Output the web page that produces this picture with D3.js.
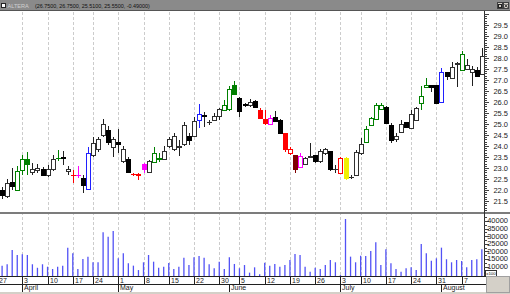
<!DOCTYPE html>
<html>
<head>
<meta charset="utf-8">
<script src="https://cdn.jsdelivr.net/npm/d3@7"></script>
<style>
  html, body { margin: 0; padding: 0; background: #fff; overflow: hidden; }
  svg { display: block; font-family: 'Liberation Sans', Arial, sans-serif; }
</style>
</head>
<body>
<div id="chart"></div>
<script>
// price + volume candles, Mar 28 .. Aug 11 2000 (daily)

const firstDay = '2000-03-27';
const holidays = ['2000-04-21', '2000-05-29', '2000-07-04'];
const monthNames = ['January', 'February', 'March', 'April', 'May', 'June', 'July',
  'August', 'September', 'October', 'November', 'December'];

const symbolName = 'ALTERA';
const titleValues = '(26.7500, 26.7500, 25.5100, 25.5500, -0.49000)';

const openP = [22.00, 21.70, 22.35, 22.00, 22.88, 23.40, 22.80, 22.90, 22.91, 22.64,
  22.91, 23.42, 23.49, 22.83, 22.66, 22.68, 22.53, 22.03, 23.55, 23.86,
  24.50, 24.69, 23.94, 24.17, 23.29, 23.40, 22.70, 22.69, 23.14, 22.80,
  23.24, 23.39, 23.40, 23.97, 23.82, 23.94, 24.05, 24.42, 24.42, 25.14,
  25.38, 25.07, 25.18, 25.36, 25.60, 25.64, 26.73, 26.17, 25.87, 25.82,
  26.01, 25.60, 25.21, 25.00, 25.30, 25.18, 24.58, 23.67, 23.55, 23.03,
  23.18, 23.50, 23.55, 23.29, 23.64, 23.74, 22.93, 22.76, 23.44, 22.57,
  22.68, 23.64, 24.15, 24.92, 25.21, 25.67, 25.76, 24.95, 24.30, 24.61,
  25.08, 24.81, 25.18, 25.91, 26.68, 26.73, 26.73, 26.00, 27.32, 27.09,
  27.72, 27.45, 27.49, 27.33, 27.45, 27.27];
const highP = [22.15, 22.52, 23.00, 23.09, 23.59, 23.73, 23.24, 23.18, 23.03, 23.14,
  23.59, 23.82, 23.77, 23.09, 22.91, 23.09, 22.68, 23.94, 24.42, 24.42,
  25.23, 24.91, 24.42, 24.76, 24.00, 23.51, 22.79, 22.76, 23.21, 23.36,
  23.94, 23.70, 24.00, 24.40, 24.58, 24.27, 25.10, 24.58, 25.33, 25.91,
  25.56, 25.18, 25.49, 25.71, 26.09, 26.73, 26.95, 26.24, 25.94, 26.12,
  26.09, 25.71, 25.64, 25.41, 25.60, 25.21, 24.61, 23.97, 23.55, 23.67,
  23.51, 24.12, 23.59, 23.85, 23.90, 23.76, 23.14, 23.49, 23.50, 22.68,
  23.82, 24.35, 24.91, 25.33, 25.94, 25.94, 25.82, 25.03, 24.58, 25.18,
  25.10, 25.64, 25.79, 26.73, 27.09, 26.77, 26.77, 27.55, 27.36, 27.82,
  27.82, 28.32, 27.95, 27.64, 27.59, 28.45];
const lowP = [21.58, 21.62, 22.00, 22.00, 22.68, 22.68, 22.68, 22.76, 22.62, 22.60,
  22.88, 23.33, 23.14, 22.68, 22.30, 22.53, 21.85, 22.00, 23.51, 23.74,
  24.42, 24.05, 23.51, 23.67, 23.24, 22.78, 22.64, 22.45, 22.79, 22.78,
  23.24, 23.29, 23.36, 23.90, 23.79, 23.55, 24.02, 24.05, 24.40, 24.81,
  24.88, 24.95, 25.15, 25.18, 25.60, 25.60, 26.32, 25.33, 25.79, 25.79,
  25.71, 25.21, 24.95, 24.95, 25.07, 24.55, 23.74, 23.59, 22.76, 22.99,
  23.14, 23.44, 23.24, 23.24, 23.59, 22.88, 22.76, 22.74, 22.45, 22.49,
  22.64, 23.59, 24.12, 24.91, 25.18, 25.64, 25.00, 24.15, 24.20, 24.58,
  24.81, 24.76, 25.15, 25.64, 26.64, 26.45, 25.91, 25.98, 27.00, 27.07,
  26.68, 27.41, 27.45, 26.73, 27.14, 27.23];
const closeP = [21.76, 22.28, 22.15, 22.82, 23.40, 23.18, 22.91, 22.99, 22.65, 22.95,
  23.40, 23.44, 23.41, 22.91, 22.68, 22.66, 22.19, 23.67, 24.12, 24.30,
  25.00, 24.17, 24.30, 24.09, 23.82, 22.80, 22.72, 22.67, 22.91, 23.29,
  23.67, 23.41, 23.77, 24.30, 24.45, 24.00, 24.95, 24.24, 25.10, 25.45,
  25.33, 25.09, 25.36, 25.64, 25.82, 26.59, 26.36, 25.56, 25.85, 25.99,
  25.76, 25.26, 25.03, 25.26, 25.10, 24.58, 23.82, 23.82, 22.91, 23.51,
  23.44, 23.52, 23.29, 23.77, 23.85, 22.94, 22.95, 23.44, 22.53, 22.59,
  23.71, 24.09, 24.73, 25.23, 25.83, 25.86, 25.03, 24.27, 24.45, 25.00,
  24.83, 25.45, 25.71, 26.27, 26.77, 26.67, 25.95, 27.36, 27.17, 27.59,
  27.74, 28.18, 27.64, 27.50, 27.18, 28.09];
// volume in hundreds of shares
const volume = [10700, 11600, 21000, 17700, 18100, 17700, 11600, 9300, 11600, 10000,
  8500, 10000, 10700, 22500, 18800, 8500, 15100, 16600, 12900, 12900,
  32600, 29700, 33400, 15500, 18800, 12200, 10700, 7800, 12900, 17700,
  13300, 9300, 10000, 12500, 8500, 10000, 15900, 11100, 16200, 17000,
  15900, 11600, 9000, 13300, 8500, 16200, 11800, 9000, 11100, 6100,
  9600, 5000, 12600, 10700, 11800, 10000, 11100, 14400, 18300, 17700,
  10000, 6700, 9300, 8500, 11100, 14400, 12900, 4500, 41300, 16600,
  12900, 17200, 17000, 20300, 26000, 11100, 21400, 12200, 8500, 6700,
  9000, 9600, 7800, 24900, 18800, 13900, 15500, 22500, 14900, 12900,
  14400, 13700, 9600, 14400, 14900, 21400];
// expert highlight per bar: n none, g green, r red, m pink, b blue, y yellow, d maroon
const signal = ['n', 'n', 'n', 'g', 'g', 'g', 'n', 'n', 'n', 'n',
  'n', 'g', 'n', 'n', 'r', 'm', 'n', 'b', 'n', 'n',
  'n', 'n', 'n', 'n', 'n', 'n', 'r', 'r', 'm', 'n',
  'g', 'g', 'n', 'n', 'n', 'n', 'n', 'n', 'n', 'b',
  'n', 'n', 'n', 'n', 'g', 'g', 'g', 'n', 'n', 'n',
  'n', 'r', 'r', 'm', 'n', 'n', 'r', 'r', 'd', 'm',
  'n', 'n', 'n', 'n', 'n', 'n', 'n', 'r', 'y', 'n',
  'n', 'n', 'g', 'g', 'g', 'g', 'n', 'n', 'n', 'n',
  'n', 'n', 'n', 'g', 'g', 'n', 'n', 'b', 'n', 'n',
  'n', 'g', 'n', 'n', 'n', 'n'];

const priceTicks = d3.range(21.5, 29.51, 0.5);
const volumeTicks = [10000, 15000, 20000, 25000, 30000, 35000, 40000];

// trading calendar
const dates = [];
(function () {
  const d = new Date(firstDay + 'T00:00:00Z');
  while (dates.length < openP.length + 1) {
    const iso = d.toISOString().slice(0, 10);
    const wd = d.getUTCDay();
    if (wd > 0 && wd < 6 && !holidays.includes(iso)) dates.push(iso);
    d.setUTCDate(d.getUTCDate() + 1);
  }
})();
const parse = s => new Date(s + 'T00:00:00Z');

const bars = openP.map((o, i) => ({
  date: dates[i + 1], open: o, high: highP[i], low: lowP[i], close: closeP[i],
  vol: volume[i], sig: signal[i]
}));

const W = 510, H = 294;
const axisX = 484;
const priceTop = 11, priceBottom = 212;
const volBottom = 276;

const x = d3.scalePoint().domain(dates).range([-2.95, 481.85]);
const y = d3.scaleLinear().domain([21.5, 29.5]).range([201, 25]);
const yv = d3.scaleLinear().domain([3900, 40000]).range([volBottom, 221]);

const sigColor = { n: '#000000', g: '#008000', r: '#ff0000', m: '#ff00ff', b: '#2020ff', y: '#f0f000', d: '#800000' };

const svg = d3.select('#chart').append('svg')
  .attr('width', W).attr('height', H);

svg.append('rect').attr('width', W).attr('height', H).attr('fill', '#fff');

// weekly dashed grid
const weekStarts = dates.filter((d, i) => i === 0 || parse(d).getUTCDay() < parse(dates[i - 1]).getUTCDay());
const monthStarts = dates.filter((d, i) => i > 0 && parse(d).getUTCMonth() !== parse(dates[i - 1]).getUTCMonth());

svg.append('g')
  .selectAll('line')
  .data(weekStarts)
  .enter().append('line')
  .attr('x1', d => Math.round(x(d)) + 0.5)
  .attr('x2', d => Math.round(x(d)) + 0.5)
  .attr('y1', priceTop + 1)
  .attr('y2', volBottom)
  .attr('stroke', '#cccccc')
  .attr('stroke-dasharray', '3,2');

// candles
const cg = svg.append('g').attr('shape-rendering', 'crispEdges');
const candle = cg.selectAll('g')
  .data(bars)
  .enter().append('g');

candle.append('line')
  .attr('x1', d => Math.round(x(d.date)) + 0.5)
  .attr('x2', d => Math.round(x(d.date)) + 0.5)
  .attr('y1', d => y(d.high))
  .attr('y2', d => y(d.low))
  .attr('stroke', d => d.sig === 'n' ? '#202020' : sigColor[d.sig]);

candle.append('rect')
  .attr('x', d => Math.round(x(d.date)) - 1.5)
  .attr('y', d => y(Math.max(d.open, d.close)))
  .attr('width', 4)
  .attr('height', d => Math.max(0.5, Math.abs(y(d.open) - y(d.close))))
  .attr('fill', d => {
    if (d.close >= d.open) return '#fff';
    return sigColor[d.sig];
  })
  .attr('stroke', d => d.sig === 'n' ? (d.close >= d.open ? '#303030' : '#000') : sigColor[d.sig]);

// volume
svg.append('g')
  .selectAll('line')
  .data(bars)
  .enter().append('line')
  .attr('x1', d => x(d.date))
  .attr('x2', d => x(d.date))
  .attr('y1', volBottom)
  .attr('y2', d => yv(d.vol))
  .attr('stroke', '#5252f5')
  .attr('stroke-width', 1.3);

// panel separator
svg.append('rect').attr('x', 0).attr('y', priceBottom).attr('width', W).attr('height', 2).attr('fill', '#7c7c7c');

// right axis
const ax = svg.append('g').attr('shape-rendering', 'crispEdges');
ax.append('line').attr('x1', axisX + 0.5).attr('x2', axisX + 0.5)
  .attr('y1', priceTop).attr('y2', volBottom).attr('stroke', '#303030');

const minorP = d3.range(210, 301).map(v => v / 10).filter(v => y(v) > priceTop + 1 && y(v) < priceBottom - 1);
ax.selectAll('.mp').data(minorP).enter().append('line')
  .attr('x1', axisX).attr('x2', v => axisX + (Math.round(v * 10) % 5 === 0 ? 5 : 3))
  .attr('y1', v => Math.round(y(v)) + 0.5).attr('y2', v => Math.round(y(v)) + 0.5)
  .attr('stroke', '#404040');

ax.selectAll('.pl').data(priceTicks).enter().append('text')
  .attr('x', 508).attr('y', v => y(v) + 2.6)
  .attr('text-anchor', 'end')
  .style('font-size', '7.5px').attr('fill', '#222')
  .text(v => v.toFixed(1));

const minorV = d3.range(5000, 42501, 2500).filter(v => yv(v) > priceBottom + 4 && yv(v) < volBottom - 1);
ax.selectAll('.mv').data(minorV).enter().append('line')
  .attr('x1', axisX).attr('x2', v => axisX + (v % 5000 === 0 ? 5 : 3))
  .attr('y1', v => Math.round(yv(v)) + 0.5).attr('y2', v => Math.round(yv(v)) + 0.5)
  .attr('stroke', '#404040');

ax.selectAll('.vl').data(volumeTicks).enter().append('text')
  .attr('x', 508).attr('y', v => yv(v) + 2.4)
  .attr('text-anchor', 'end')
  .style('font-size', '7.5px').attr('fill', '#222')
  .text(v => v);

// x100 marker
svg.append('rect').attr('x', 485.5).attr('y', 270.5).attr('width', 11).attr('height', 5.5)
  .attr('fill', '#fff').attr('stroke', '#333').attr('shape-rendering', 'crispEdges');
svg.append('text').attr('x', 491).attr('y', 275.4).attr('text-anchor', 'middle')
  .style('font-size', '4.4px').attr('fill', '#111').text('x100');

// date axis
const da = svg.append('g').attr('shape-rendering', 'crispEdges');
da.append('line').attr('x1', 0).attr('x2', 486).attr('y1', volBottom + 0.5).attr('y2', volBottom + 0.5).attr('stroke', '#202020');
da.append('line').attr('x1', 0).attr('x2', 486).attr('y1', 284.5).attr('y2', 284.5).attr('stroke', '#202020');

da.selectAll('.wt').data(weekStarts).enter().append('line')
  .attr('x1', d => Math.round(x(d)) + 0.5).attr('x2', d => Math.round(x(d)) + 0.5)
  .attr('y1', volBottom).attr('y2', 284).attr('stroke', '#202020');
da.selectAll('.wl').data(weekStarts).enter().append('text')
  .attr('x', d => Math.round(x(d)) + 2).attr('y', 282.6)
  .style('font-size', '7px').attr('fill', '#222')
  .text(d => parse(d).getUTCDate());

da.selectAll('.mt').data(monthStarts).enter().append('line')
  .attr('x1', d => Math.round(x(d)) + 0.5).attr('x2', d => Math.round(x(d)) + 0.5)
  .attr('y1', 284).attr('y2', 292).attr('stroke', '#202020');
da.selectAll('.ml').data(monthStarts).enter().append('text')
  .attr('x', d => Math.round(x(d)) + 2).attr('y', 290.3)
  .style('font-size', '7px').attr('fill', '#222')
  .text(d => monthNames[parse(d).getUTCMonth()]);

svg.append('rect').attr('x', 0).attr('y', 292).attr('width', W).attr('height', 2).attr('fill', '#d4d0c8');
svg.append('rect').attr('x', 486.5).attr('y', 276.5).attr('width', 23).attr('height', 15.5)
  .attr('fill', '#d4d0c8').attr('stroke', '#a0a0a0').attr('shape-rendering', 'crispEdges');

// window title bar
svg.append('rect').attr('x', 0).attr('y', 0).attr('width', W).attr('height', 10).attr('fill', '#8a8a8a');
svg.append('rect').attr('x', 0).attr('y', 10).attr('width', W).attr('height', 1).attr('fill', '#555');
svg.append('rect').attr('x', 1.5).attr('y', 3.5).attr('width', 4).attr('height', 4)
  .attr('fill', '#fff').attr('stroke', '#222').attr('shape-rendering', 'crispEdges');
svg.append('text').attr('x', 7.5).attr('y', 8.3).style('font-size', '5.6px').attr('fill', '#cfcfcf').text(symbolName);
svg.append('text').attr('x', 35).attr('y', 8.3).style('font-size', '5.4px').attr('fill', '#111').text(titleValues);

[497, 503].forEach((bx, i) => {
  svg.append('rect').attr('x', bx + 0.5).attr('y', 2.5).attr('width', 5).attr('height', 6)
    .attr('fill', '#d4d0c8').attr('stroke', '#404040').attr('shape-rendering', 'crispEdges');
  if (i === 0) {
    svg.append('rect').attr('x', bx + 1.5).attr('y', 4.5).attr('width', 3).attr('height', 3)
      .attr('fill', 'none').attr('stroke', '#222').attr('shape-rendering', 'crispEdges');
  } else {
    svg.append('path').attr('d', `M${bx + 1.5},${4} L${bx + 4.5},${7.5} M${bx + 4.5},${4} L${bx + 1.5},${7.5}`)
      .attr('stroke', '#222').attr('stroke-width', 0.9);
  }
});
</script>
</body>
</html>
